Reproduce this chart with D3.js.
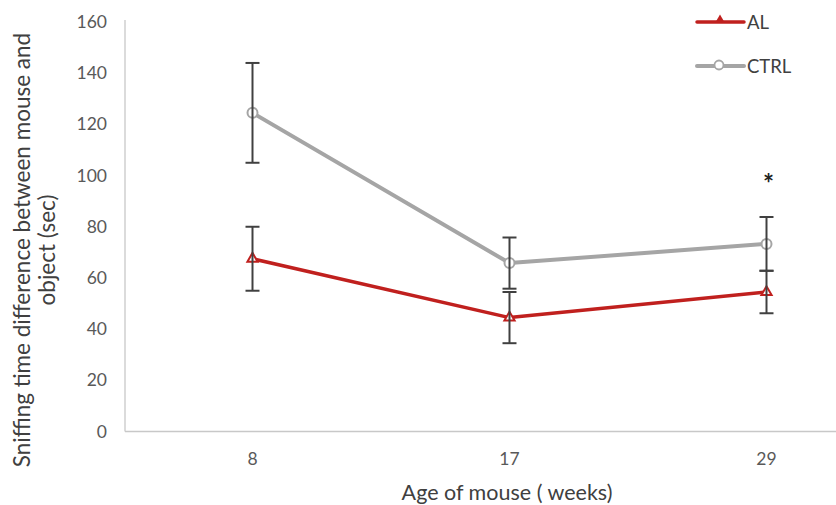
<!DOCTYPE html>
<html><head><meta charset="utf-8">
<script src="https://cdn.jsdelivr.net/npm/d3@7"></script>
<style>body{margin:0;background:#fff}svg{display:block}text{font-family:Lato,"Open Sans",sans-serif}</style>
</head><body><svg id="c" width="836" height="505"></svg>
<script>
const categories = ["8", "17", "29"];
const alMean = [67.5, 44.5, 54.5];
const alErr = [12.5, 10, 8.3];
const ctrlMean = [124.5, 65.8, 73.3];
const ctrlErr = [19.5, 10, 10.5];
const yTicks = [0, 20, 40, 60, 80, 100, 120, 140, 160];
const seriesNames = ["AL", "CTRL"];

const svg = d3.select("#c");
const x = d3.scaleBand().domain(categories).range([124, 895]);
const y = d3.scaleLinear().domain([0, 160]).range([431.5, 22]);
const cx = d => x(d) + x.bandwidth() / 2;

// axes
svg.append("line").attr("x1", 125).attr("x2", 125).attr("y1", 20).attr("y2", y(0))
  .attr("stroke", "#c8c8c8").attr("stroke-width", 1.3);
svg.append("line").attr("x1", 125).attr("x2", 836).attr("y1", y(0)).attr("y2", y(0))
  .attr("stroke", "#c8c8c8").attr("stroke-width", 1.3);

const ya = svg.append("g").attr("transform", "translate(125,0)")
  .call(d3.axisLeft(y).tickValues(yTicks).tickSize(0).tickPadding(18));
ya.select(".domain").remove();
ya.selectAll("text").attr("font-size", 17.5).attr("fill", "#595959").style("font-family", "Lato,sans-serif");

const xa = svg.append("g").attr("transform", `translate(0,${y(0)})`)
  .call(d3.axisBottom(x).tickSize(0).tickPadding(21));
xa.select(".domain").remove();
xa.selectAll("text").attr("font-size", 17.5).attr("fill", "#595959").style("font-family", "Lato,sans-serif");

// titles
svg.append("text").attr("x", 507).attr("y", 500).attr("text-anchor", "middle")
  .attr("font-size", 21.5).attr("fill", "#404040").text("Age of mouse ( weeks)");
const yt = svg.append("text").attr("transform", "translate(0,250) rotate(-90)")
  .attr("text-anchor", "middle").attr("font-size", 22.5).attr("fill", "#404040");
yt.append("tspan").attr("x", 0).attr("y", 30).text("Sniffing time difference between mouse and");
yt.append("tspan").attr("x", 0).attr("y", 55).text("object (sec)");

const series = [
  {name: "AL", mean: alMean, err: alErr, color: "#c0201e", width: 3.5, marker: "tri"},
  {name: "CTRL", mean: ctrlMean, err: ctrlErr, color: "#a5a5a5", width: 4, marker: "circ"}
];

// lines
const line = d3.line().x((d, i) => cx(categories[i])).y(d => y(d));
series.slice().reverse().forEach(s => {
  svg.append("path").datum(s.mean).attr("d", line).attr("fill", "none")
    .attr("stroke", s.color).attr("stroke-width", s.width).attr("stroke-linejoin", "round");
});

// markers
function drawMarker(g, s, px, py) {
  if (s.marker === "tri") {
    g.append("path").attr("d", d3.symbol(d3.symbolTriangle, 45)())
      .attr("transform", `translate(${px},${py})`)
      .attr("fill", "#fff").attr("stroke", s.color).attr("stroke-width", 2);
  } else {
    g.append("circle").attr("cx", px).attr("cy", py).attr("r", 5)
      .attr("fill", "#fff").attr("stroke", s.color).attr("stroke-width", 2);
  }
}
series.forEach(s => {
  s.mean.forEach((m, i) => drawMarker(svg, s, cx(categories[i]), y(m)));
});

// error bars
const eg = svg.append("g").attr("stroke", "#404040").attr("stroke-width", 2);
series.forEach(s => {
  s.mean.forEach((m, i) => {
    const px = cx(categories[i]);
    const hi = y(m + s.err[i]), lo = y(m - s.err[i]);
    eg.append("line").attr("x1", px).attr("x2", px).attr("y1", hi).attr("y2", lo);
    [hi, lo].forEach(v => eg.append("line").attr("x1", px - 7).attr("x2", px + 7).attr("y1", v).attr("y2", v));
  });
});

// significance
svg.append("text").attr("x", cx("29") + 2).attr("y", 193).attr("text-anchor", "middle")
  .attr("font-size", 26).attr("font-weight", "bold").attr("fill", "#222").text("*");

// legend
const lg = svg.append("g");
series.forEach((s, i) => {
  const ly = 22 + i * 44;
  lg.append("line").attr("x1", 697).attr("x2", 744).attr("y1", ly).attr("y2", ly)
    .attr("stroke", s.color).attr("stroke-width", s.width).attr("stroke-linecap", "round");
  if (s.marker === "tri") {
    lg.append("path").attr("d", d3.symbol(d3.symbolTriangle, 40)())
      .attr("transform", `translate(720,${ly - 2})`).attr("fill", s.color);
  } else {
    lg.append("circle").attr("cx", 719).attr("cy", ly - 1).attr("r", 4.5)
      .attr("fill", "#fff").attr("stroke", s.color).attr("stroke-width", 1.8);
  }
  lg.append("text").attr("x", 747).attr("y", ly + 6.5).attr("font-size", 18.5)
    .attr("fill", "#404040").text(seriesNames[i]);
});
</script></body></html>
